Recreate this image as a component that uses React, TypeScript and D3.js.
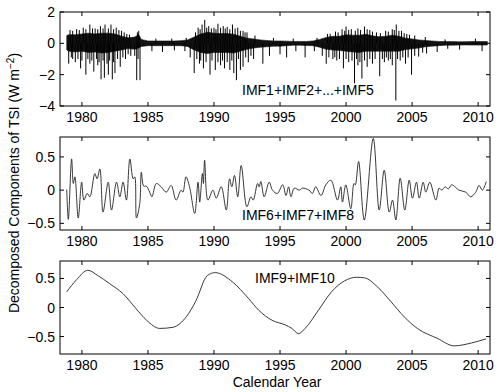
import React from 'react';
import * as d3 from 'd3';

// x ticks shared by all three panels
const yearTicks = [1980, 1985, 1990, 1995, 2000, 2005, 2010];

// IMF1..IMF5: dense high-frequency band (core envelope)
const bandYears = [1978.85, 1979.0, 1979.5, 1980.0, 1980.5, 1981.0, 1981.5, 1982.0, 1982.5, 1983.0, 1983.5, 1984.0, 1984.3, 1984.5, 1985.0, 1985.5, 1986.0, 1986.5, 1987.0, 1987.5, 1988.0, 1988.5, 1989.0, 1989.5, 1990.0, 1990.5, 1991.0, 1991.5, 1992.0, 1992.5, 1993.0, 1993.5, 1994.0, 1994.5, 1995.0, 1995.5, 1996.0, 1996.5, 1997.0, 1997.5, 1998.0, 1998.5, 1999.0, 1999.5, 2000.0, 2000.5, 2001.0, 2001.5, 2002.0, 2002.5, 2003.0, 2003.5, 2004.0, 2004.5, 2005.0, 2005.5, 2006.0, 2006.5, 2007.0, 2007.5, 2008.0, 2008.5, 2009.0, 2009.5, 2010.0, 2010.7];
const bandUpper = [0.5, 0.55, 0.55, 0.6, 0.65, 0.6, 0.65, 0.65, 0.6, 0.45, 0.35, 0.4, 0.55, 0.25, 0.15, 0.15, 0.15, 0.15, 0.15, 0.17, 0.22, 0.4, 0.6, 0.7, 0.65, 0.62, 0.62, 0.58, 0.45, 0.33, 0.28, 0.22, 0.18, 0.15, 0.15, 0.14, 0.12, 0.12, 0.12, 0.15, 0.25, 0.38, 0.45, 0.45, 0.55, 0.52, 0.52, 0.58, 0.48, 0.42, 0.45, 0.52, 0.45, 0.33, 0.28, 0.22, 0.18, 0.15, 0.12, 0.11, 0.11, 0.1, 0.1, 0.11, 0.11, 0.11];
const bandLower = [-0.42, -0.5, -0.55, -0.5, -0.58, -0.55, -0.62, -0.58, -0.5, -0.42, -0.33, -0.38, -0.3, -0.2, -0.15, -0.15, -0.15, -0.15, -0.15, -0.15, -0.2, -0.42, -0.58, -0.65, -0.58, -0.58, -0.58, -0.62, -0.5, -0.38, -0.3, -0.25, -0.22, -0.18, -0.18, -0.15, -0.12, -0.12, -0.14, -0.15, -0.25, -0.38, -0.42, -0.45, -0.5, -0.55, -0.58, -0.5, -0.5, -0.5, -0.5, -0.5, -0.5, -0.4, -0.35, -0.3, -0.22, -0.18, -0.15, -0.12, -0.12, -0.11, -0.1, -0.11, -0.11, -0.11];

// upward excursions sticking out of the band
const upYears = [1979.1, 1979.3, 1979.6, 1979.8, 1980.1, 1980.3, 1980.6, 1980.8, 1981.0, 1981.2, 1981.4, 1981.6, 1981.75, 1982.0, 1982.2, 1982.4, 1982.6, 1982.8, 1983.0, 1983.2, 1983.4, 1983.6, 1984.2, 1984.3, 1985.6, 1986.8, 1987.9, 1988.6, 1988.8, 1988.95, 1989.1, 1989.3, 1989.45, 1989.6, 1989.8, 1990.0, 1990.15, 1990.3, 1990.5, 1990.7, 1990.85, 1991.0, 1991.2, 1991.4, 1991.6, 1991.8, 1992.0, 1992.2, 1992.35, 1992.5, 1993.1, 1994.5, 1996.0, 1997.8, 1998.6, 1998.8, 1999.2, 1999.4, 1999.7, 1999.9, 2000.0, 2000.2, 2000.4, 2000.7, 2000.9, 2001.1, 2001.4, 2001.6, 2001.8, 2002.0, 2002.3, 2002.6, 2003.0, 2003.2, 2003.5, 2003.65, 2003.8, 2004.0, 2004.2, 2004.4, 2004.6, 2004.8, 2005.2, 2006.0, 2007.5, 2009.8];
const upValues = [0.85, 0.8, 0.9, 0.85, 1.0, 0.9, 1.2, 0.95, 0.95, 0.9, 1.1, 0.95, 1.2, 0.95, 1.2, 0.9, 1.0, 0.85, 0.8, 0.7, 0.6, 0.55, 0.7, 0.8, 0.3, 0.3, 0.35, 0.7, 1.0, 0.9, 1.2, 1.5, 1.0, 1.1, 0.95, 1.0, 0.9, 1.25, 1.0, 1.1, 0.95, 1.05, 0.9, 1.2, 0.95, 1.0, 0.8, 0.8, 0.7, 0.7, 0.5, 0.35, 0.3, 0.35, 0.6, 0.6, 0.75, 0.7, 0.9, 0.8, 1.07, 0.85, 0.9, 0.8, 0.95, 0.85, 1.07, 0.9, 0.85, 0.75, 0.7, 0.65, 0.8, 0.75, 0.9, 0.85, 1.2, 0.8, 0.8, 0.65, 0.6, 0.55, 0.5, 0.4, 0.25, 0.3];

// downward excursions (the dips)
const downYears = [1979.0, 1979.2, 1979.3, 1979.5, 1979.7, 1979.9, 1980.0, 1980.3, 1980.45, 1980.6, 1980.75, 1980.9, 1981.1, 1981.2, 1981.3, 1981.45, 1981.6, 1981.7, 1981.9, 1982.0, 1982.1, 1982.3, 1982.4, 1982.5, 1982.7, 1982.9, 1983.1, 1983.3, 1983.5, 1983.7, 1984.0, 1984.15, 1984.25, 1984.4, 1985.3, 1986.1, 1987.0, 1987.8, 1988.2, 1988.5, 1988.7, 1988.9, 1989.0, 1989.2, 1989.4, 1989.7, 1989.85, 1990.1, 1990.3, 1990.5, 1990.65, 1990.8, 1991.0, 1991.2, 1991.35, 1991.5, 1991.7, 1991.85, 1992.0, 1992.2, 1992.4, 1992.6, 1992.8, 1993.0, 1993.7, 1994.2, 1995.0, 1995.5, 1996.2, 1996.9, 1997.6, 1998.2, 1998.5, 1998.7, 1999.0, 1999.15, 1999.3, 1999.5, 1999.8, 2000.0, 2000.2, 2000.45, 2000.64, 2000.8, 2000.9, 2001.05, 2001.2, 2001.4, 2001.6, 2001.8, 2002.0, 2002.2, 2002.55, 2002.75, 2002.9, 2003.05, 2003.2, 2003.35, 2003.5, 2003.77, 2003.9, 2004.1, 2004.3, 2004.5, 2004.7, 2004.96, 2005.2, 2005.5, 2005.8, 2006.1, 2006.9, 2007.7, 2008.6, 2010.3];
const downValues = [-1.3, -0.9, -1.0, -1.2, -1.0, -1.6, -1.1, -2.0, -1.0, -1.3, -1.1, -1.8, -1.0, -1.4, -1.2, -2.3, -1.1, -2.2, -1.3, -2.0, -1.1, -2.3, -1.2, -1.9, -1.0, -1.5, -0.9, -1.0, -0.7, -0.8, -0.8, -2.35, -1.0, -2.35, -0.5, -0.55, -0.45, -0.5, -0.9, -1.9, -1.0, -1.3, -1.1, -1.6, -1.2, -2.0, -1.1, -1.7, -1.2, -1.4, -1.1, -1.6, -1.2, -1.7, -1.1, -1.9, -2.35, -1.0, -1.7, -1.5, -0.9, -1.2, -0.8, -1.0, -1.3, -0.8, -0.7, -0.9, -0.5, -0.9, -0.5, -0.8, -1.3, -0.9, -1.0, -0.9, -1.1, -1.0, -1.6, -1.0, -1.2, -1.1, -2.55, -1.0, -1.4, -1.2, -2.25, -1.1, -1.5, -1.0, -1.3, -1.0, -2.1, -1.0, -1.2, -0.9, -1.1, -1.0, -1.4, -3.65, -1.0, -1.1, -0.9, -1.3, -0.9, -2.0, -0.8, -0.85, -0.6, -0.65, -0.55, -0.35, -0.4, -0.5];

// IMF6+IMF7+IMF8
const midYears = [1978.85, 1978.97, 1979.22, 1979.35, 1979.47, 1979.72, 1979.98, 1980.15, 1980.4, 1980.6, 1980.98, 1981.15, 1981.36, 1981.6, 1981.99, 1982.24, 1982.62, 1982.87, 1983.12, 1983.37, 1983.63, 1983.88, 1984.0, 1984.13, 1984.38, 1984.5, 1984.68, 1984.88, 1985.13, 1985.3, 1985.63, 1986.0, 1986.38, 1986.76, 1987.13, 1987.51, 1987.65, 1987.88, 1988.15, 1988.54, 1988.79, 1988.92, 1989.12, 1989.2, 1989.29, 1989.54, 1989.92, 1990.17, 1990.55, 1990.93, 1991.18, 1991.35, 1991.55, 1991.8, 1992.06, 1992.49, 1992.8, 1992.97, 1993.3, 1993.42, 1993.55, 1993.8, 1994.18, 1994.43, 1994.8, 1995.2, 1995.45, 1995.65, 1995.83, 1996.08, 1996.46, 1996.7, 1997.2, 1997.45, 1997.7, 1998.1, 1998.47, 1998.85, 1999.35, 1999.6, 1999.73, 1999.98, 2000.36, 2000.6, 2000.7, 2000.95, 2001.38, 2002.06, 2002.51, 2002.89, 2003.27, 2003.52, 2003.77, 2004.1, 2004.45, 2004.78, 2005.03, 2005.33, 2005.54, 2005.84, 2006.04, 2006.34, 2006.8, 2007.05, 2007.25, 2007.5, 2007.75, 2008.0, 2008.56, 2009.06, 2009.44, 2009.82, 2010.07, 2010.32, 2010.62];
const midValues = [0.01, -0.44, 0.47, 0.1, 0.2, -0.42, 0.12, -0.15, -0.05, -0.1, 0.25, 0.17, 0.32, -0.33, 0.12, -0.3, 0.12, -0.1, 0.12, -0.15, 0.47, 0.17, 0.2, -0.42, -0.2, 0.27, 0.06, 0.06, -0.03, -0.1, 0.1, 0.05, -0.03, 0.07, -0.15, 0.0, -0.03, 0.2, 0.05, -0.35, 0.12, -0.18, 0.25, 0.1, 0.45, -0.15, 0.0, -0.12, 0.05, -0.3, 0.17, 0.05, 0.22, -0.1, 0.37, -0.25, -0.1, -0.15, 0.1, 0.05, 0.13, -0.1, 0.12, 0.0, -0.05, 0.08, -0.08, 0.05, -0.1, 0.03, 0.0, 0.03, 0.0, -0.05, 0.05, -0.08, 0.08, 0.15, -0.15, 0.05, -0.18, 0.08, -0.28, 0.1, 0.08, 0.43, -0.45, 0.78, -0.3, 0.3, -0.33, -0.15, -0.45, 0.18, -0.3, 0.15, -0.12, 0.12, -0.12, 0.12, -0.03, 0.12, -0.15, 0.03, 0.0, 0.05, 0.02, 0.08, 0.0, -0.03, -0.1, -0.03, 0.07, 0.0, 0.13];

// IMF9+IMF10
const lowYears = [1978.85, 1979.6, 1980.45, 1981.2, 1982.1, 1983.1, 1984.1, 1984.9, 1985.9, 1986.9, 1987.9, 1988.6, 1989.5, 1990.1, 1991.4, 1992.6, 1993.4, 1994.4, 1995.4, 1995.9, 1996.4, 1996.9, 1997.9, 1998.9, 1999.9, 2000.8, 2001.4, 2002.4, 2003.4, 2004.4, 2005.4, 2006.9, 2008.2, 2009.5, 2010.6];
const lowValues = [0.27, 0.48, 0.64, 0.55, 0.41, 0.24, -0.02, -0.22, -0.36, -0.34, -0.16, 0.1, 0.55, 0.6, 0.44, 0.16, -0.05, -0.22, -0.3, -0.36, -0.45, -0.36, -0.05, 0.27, 0.46, 0.52, 0.51, 0.35, 0.1, -0.16, -0.36, -0.53, -0.66, -0.61, -0.54];

const W = 498;
const H = 392;
const left = 60;
const right = 490;
const font = "'Liberation Sans', Arial, Helvetica, sans-serif";

const x = d3.scaleLinear().domain([1978.34, 2010.9]).range([left, right]);

function Frame({ top, bottom, y, yTicks, children }: any) {
  const tl = 4;
  return (
    <g>
      {children}
      <rect x={left} y={top} width={right - left} height={bottom - top} fill="none" stroke="#000" strokeWidth={1} />
      {yearTicks.map(t => (
        <g key={'x' + t}>
          <line x1={x(t)} x2={x(t)} y1={bottom} y2={bottom - tl} stroke="#000" />
          <line x1={x(t)} x2={x(t)} y1={top} y2={top + tl} stroke="#000" />
          <text x={x(t)} y={bottom + 16} textAnchor="middle" fontSize={14} fontFamily={font}>{t}</text>
        </g>
      ))}
      {yTicks.map((t: number) => (
        <g key={'y' + t}>
          <line x1={left} x2={left + tl} y1={y(t)} y2={y(t)} stroke="#000" />
          <line x1={right} x2={right - tl} y1={y(t)} y2={y(t)} stroke="#000" />
          <text x={left - 5} y={y(t) + 5} textAnchor="end" fontSize={14} fontFamily={font}>{String(t).replace('-', '\u2212')}</text>
        </g>
      ))}
    </g>
  );
}

export default function App() {
  // panel 1
  const y1 = d3.scaleLinear().domain([-4, 2]).range([106, 12]);
  const band = d3.area<number>()
    .x((_, i) => x(bandYears[i]))
    .y0((_, i) => y1(bandLower[i]))
    .y1((_, i) => y1(bandUpper[i]));

  // panel 2
  const y2 = d3.scaleLinear().domain([-0.6, 0.8]).range([230, 137]);
  const midLine = d3.line<number>()
    .x((_, i) => x(midYears[i]))
    .y(d => y2(d))
    .curve(d3.curveCatmullRom.alpha(0.5));

  // panel 3
  const y3 = d3.scaleLinear().domain([-0.8, 0.8]).range([354, 261]);
  const lowLine = d3.line<number>()
    .x((_, i) => x(lowYears[i]))
    .y(d => y3(d))
    .curve(d3.curveMonotoneX);

  return (
    <svg width={W} height={H} style={{ position: 'absolute', left: 0, top: 0, background: '#fff' }}>
      <rect width={W} height={H} fill="#fff" />

      <Frame top={12} bottom={106} y={y1} yTicks={[2, 0, -2, -4]}>
        <path d={band(bandUpper) || ''} fill="#111" stroke="#111" strokeWidth={0.6} />
        {upYears.map((yr, i) => (
          <line key={'u' + i} x1={x(yr)} x2={x(yr)} y1={y1(0)} y2={y1(upValues[i])} stroke="#000" strokeWidth={1} />
        ))}
        {downYears.map((yr, i) => (
          <line key={'d' + i} x1={x(yr)} x2={x(yr)} y1={y1(0)} y2={y1(downValues[i])} stroke="#000" strokeWidth={1} />
        ))}
        <text x={242} y={95} fontSize={14} fontFamily={font}>IMF1+IMF2+...+IMF5</text>
      </Frame>

      <Frame top={137} bottom={230} y={y2} yTicks={[0.5, 0, -0.5]}>
        <path d={midLine(midValues) || ''} fill="none" stroke="#222" strokeWidth={0.9} />
        <text x={242} y={220} fontSize={14} fontFamily={font}>IMF6+IMF7+IMF8</text>
      </Frame>

      <Frame top={261} bottom={354} y={y3} yTicks={[0.5, 0, -0.5]}>
        <path d={lowLine(lowValues) || ''} fill="none" stroke="#222" strokeWidth={0.9} />
        <text x={255} y={283} fontSize={14} fontFamily={font}>IMF9+IMF10</text>
      </Frame>

      <text transform="translate(19,183) rotate(-90)" textAnchor="middle" fontSize={14} fontFamily={font}>
        Decomposed Components of TSI (W m<tspan dy={-5} fontSize={10}>{'\u22122'}</tspan><tspan dy={5}>)</tspan>
      </text>
      <text x={277} y={387} textAnchor="middle" fontSize={14} fontFamily={font}>Calendar Year</text>
    </svg>
  );
}
